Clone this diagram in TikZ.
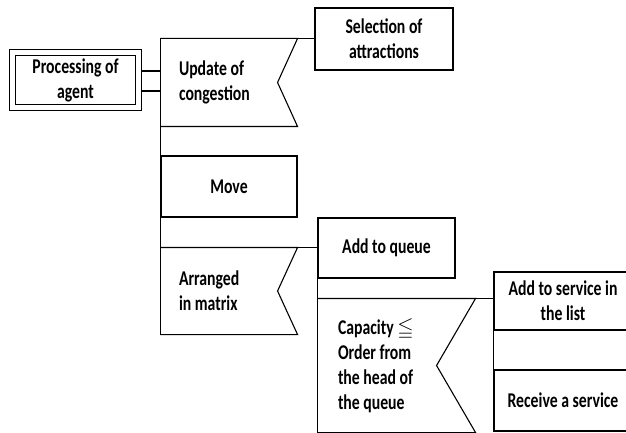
\documentclass[tikz,border=0pt]{standalone}
\usepackage{amssymb}
\usepackage{fontspec}
\setmainfont{Carlito}[FakeStretch=0.75]
\usetikzlibrary{positioning}

\begin{document}
\begin{tikzpicture}[
        x=1pt, y=-1pt,
        line width=1.1pt,
        font=\fontsize{21}{25}\selectfont\bfseries,
        box/.style={draw, rectangle, align=center, inner sep=0pt},
        dbox/.style={draw, rectangle, double, double distance=4.6pt, align=center, inner sep=0pt, outer sep=3.4pt, minimum width=126pt, minimum height=55pt},
        padbox/.style={rectangle, align=flush left, inner xsep=18pt, inner ysep=0pt}
    ]
    \useasboundingbox (0,0) rectangle (626,433);
    \clip (0,0) rectangle (626,433);

    % Nodes
    \node[dbox] (proc) at (75.5,80) {Processing of\\agent};
    \node[padbox, text width=100pt, minimum height=87pt] (upd) at (229,82.5) {Update of\\congestion};
    \node[box, minimum width=138pt, minimum height=62pt] (sel) at (384,39) {Selection of\\attractions};
    \node[box, minimum width=136pt, minimum height=61pt] (move) at (229,186.5) {Move};
    \node[padbox, text width=100pt, minimum height=86pt] (arr) at (229,291) {Arranged\\in matrix};
    \node[box, minimum width=137pt, minimum height=60pt] (queue) at (386.5,248) {Add to queue};
    \node[padbox, inner xsep=20pt, text width=117pt, minimum height=133pt] (cap) at (396.5,365.5) {Capacity $\leqq$\\Order from\\the head of\\the queue};
    \node[box, minimum width=138pt, minimum height=58pt] (svc) at (563,301) {Add to service in\\the list};
    \node[box, minimum width=138pt, minimum height=61pt] (recv) at (563,400.5) {Receive a service};

    % Notched boxes
    \draw (upd.north west) -- (upd.north east) -- ([xshift=-20pt]upd.east) -- (upd.south east) -- (upd.south west);
    \draw (arr.north west) -- (arr.north east) -- ([xshift=-20pt]arr.east) -- (arr.south east) -- (arr.south west);
    \draw (cap.north west) -- (cap.north east) -- ([xshift=-39pt]cap.east) -- (cap.south east) -- (cap.south west);

    % Lines
    \draw ([yshift=9pt]proc.east) -- ([yshift=9pt]proc.east -| upd.west);
    \draw ([yshift=-11pt]proc.east) -- ([yshift=-11pt]proc.east -| upd.west);
    \draw (upd.north west) -- (arr.south west);
    \draw (upd.north east) -- (upd.north east -| sel.west);
    \draw (arr.north east) -- (arr.north east -| queue.west);
    \draw (arr.north east -| queue.west) -- (cap.south west);
    \draw (cap.north east) -- (cap.north east -| svc.west);
    \draw (svc.north west) -- (recv.south west);
\end{tikzpicture}
\end{document}
